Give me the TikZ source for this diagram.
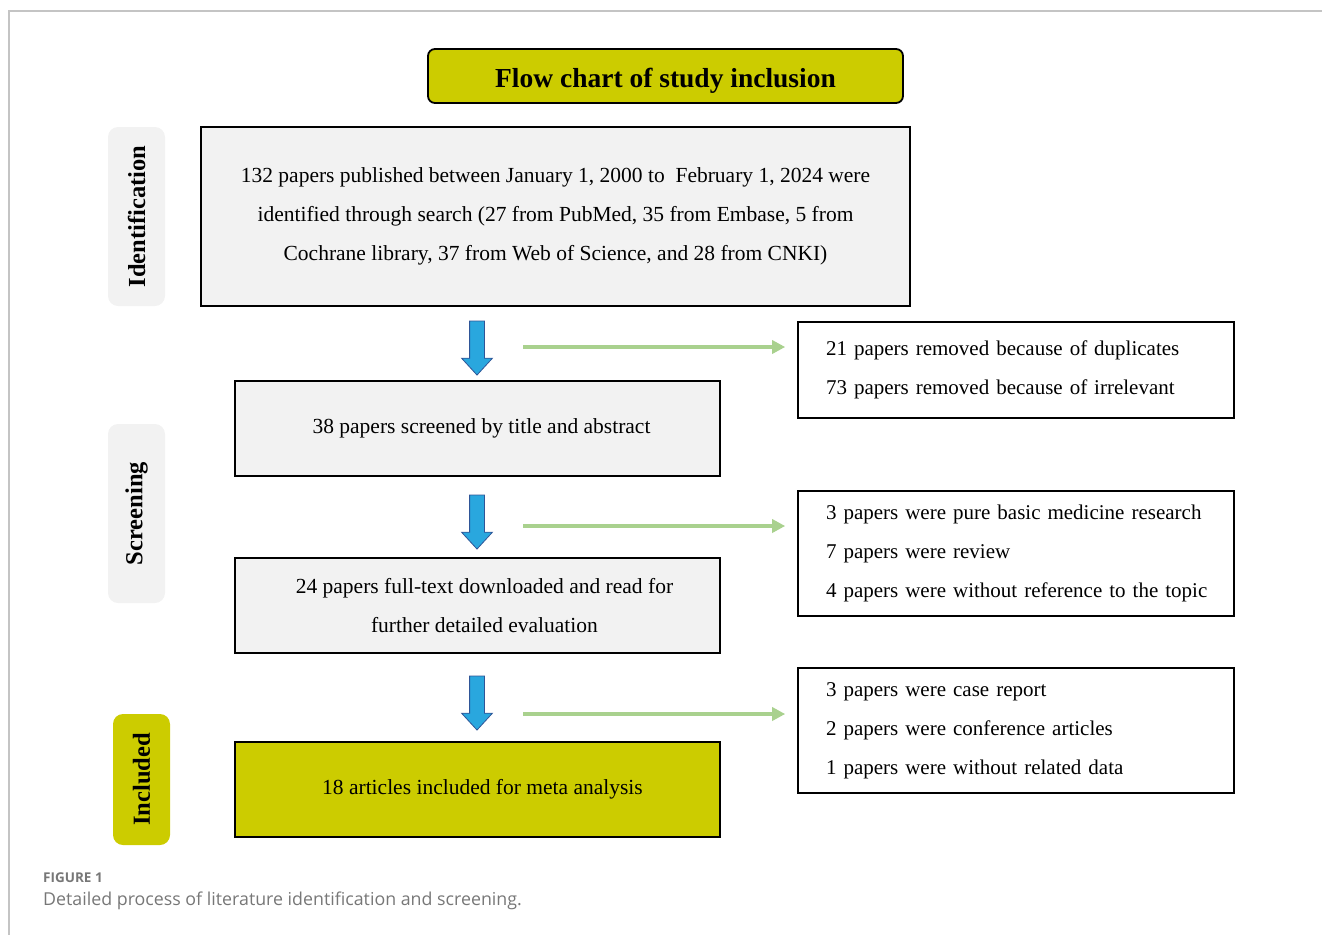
\documentclass[tikz,border=0pt]{standalone}
\usepackage{fontspec}
\setmainfont{Liberation Serif}
\newfontfamily\capfont{Open Sans}
\usetikzlibrary{arrows.meta,positioning,shapes.arrows}
\definecolor{olive}{HTML}{CCCC00}
\definecolor{boxgray}{HTML}{F2F2F2}
\definecolor{downblue}{HTML}{29A7DE}
\definecolor{downedge}{HTML}{2F5597}
\definecolor{sidegreen}{HTML}{A9D18E}
\definecolor{framegray}{HTML}{C4C4C4}
\definecolor{capgray}{HTML}{777777}
\tikzset{
  titlebox/.style ={rounded corners=7pt,draw=black,line width=1.8pt,fill=olive,
                    minimum width=475pt,minimum height=54pt,inner sep=0pt,
                    font=\bfseries\fontsize{27.5}{30}\selectfont},
  phase/.style    ={rounded corners=10pt,fill=boxgray,rotate=90,inner sep=0pt,
                    minimum height=57pt,font=\bfseries\fontsize{24.5}{26}\selectfont},
  stage/.style    ={draw=black,line width=1.6pt,fill=boxgray,align=center,inner sep=0pt,
                    font=\fontsize{21.5}{39}\selectfont},
  excl/.style     ={draw=black,line width=1.6pt,fill=white,align=left,inner sep=0pt,
                    minimum width=436pt,text width=380pt,font=\fontsize{21}{39}\selectfont},
  down/.style     ={single arrow,draw=downedge,line width=0.8pt,fill=downblue,
                    shape border rotate=270,inner sep=7pt,minimum height=54pt,
                    minimum width=30pt,single arrow head extend=8pt,
                    single arrow tip angle=85},
  side/.style     ={-{Triangle[length=13pt,width=13pt]},line width=4pt,draw=sidegreen,
                    shorten >=12pt}
}
\begin{document}
\begin{tikzpicture}[x=1pt,y=-1pt]
  \useasboundingbox (0,0) rectangle (1322,935);
  \draw[framegray,line width=1.2pt] (1322,11) -- (9,11) -- (9,935);

  \node[titlebox] (title) at (665.5,76)
    {\raisebox{-5pt}[\height][\depth]{Flow chart of study inclusion}};

  % phases
  \node[phase,minimum width=179pt] (ident) at (136.5,216.5) {Identification};
  \node[phase,minimum width=179pt] (screen) at (136.5,513.5) {Screening};
  \node[phase,minimum width=131pt,fill=olive] (incl) at (141.5,779.5) {Included};

  % main column
  \node[stage,minimum width=709pt,minimum height=179pt] (found) at (555.5,216.5)
    {132 papers published between January 1, 2000 to \ February 1, 2024 were\\
     identified through search (27 from PubMed, 35 from Embase, 5 from\\
     Cochrane library, 37 from Web of Science, and 28 from CNKI)};
  \node[stage,minimum width=485pt,minimum height=95pt] (title-abs) at (477.5,428.5)
    {\hspace*{8pt}38 papers screened by title and abstract};
  \node[stage,minimum width=485pt,minimum height=95pt] (fulltext) at (477.5,605.5)
    {\hspace*{14pt}24 papers full-text downloaded and read for\\
     \hspace*{14pt}further detailed evaluation};
  \node[stage,minimum width=485pt,minimum height=95pt,fill=olive] (meta) at (477.5,789.5)
    {\hspace*{10pt}18 articles included for meta analysis};

  % exclusions
  \node[excl,minimum height=96pt] (ex1) at (1016,370)
    {21 papers removed because of duplicates\\
     73 papers removed because of irrelevant};
  \node[excl,minimum height=125pt] (ex2) at (1016,553.5)
    {3 papers were pure basic medicine research\\
     7 papers were review\\
     \mbox{4 papers were without reference to the topic}};
  \node[excl,minimum height=125pt] (ex3) at (1016,730.5)
    {3 papers were case report\\
     2 papers were conference articles\\
     1 papers were without related data};

  % flow arrows
  \node[down] (d1) at (477,344) {};
  \node[down] (d2) at (477,518) {};
  \node[down] (d3) at (477,699) {};
  \coordinate (g1) at (523,347);
  \coordinate (g2) at (523,526);
  \coordinate (g3) at (523,714);
  \draw[side] (g1) -- (g1 -| ex1.west);
  \draw[side] (g2) -- (g2 -| ex2.west);
  \draw[side] (g3) -- (g3 -| ex3.west);

  % caption
  \node[anchor=west,inner sep=0pt,text=capgray,font=\capfont\bfseries\fontsize{13.5}{16}\selectfont]
    (figno) at (43,878) {FIGURE 1};
  \node[anchor=west,inner sep=0pt,text=capgray,font=\capfont\fontsize{17.8}{20}\selectfont]
    (figcap) at (43,901) {Detailed process of literature identification and screening.};
\end{tikzpicture}
\end{document}
